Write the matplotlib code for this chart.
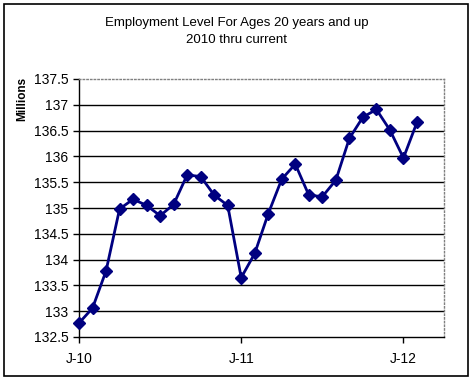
import numpy as np
import matplotlib.pyplot as plt
from matplotlib.patches import Rectangle

plt.rcParams['font.family'] = ['Liberation Sans', 'DejaVu Sans']

# monthly employment level, Jan 2010 .. Feb 2012 (millions)
months = np.arange(26)
level = [132.77, 133.06, 133.78, 134.98, 135.17, 135.05, 134.85, 135.07,
         135.64, 135.61, 135.25, 135.05, 133.65, 134.12, 134.89, 135.56,
         135.85, 135.25, 135.22, 135.54, 136.35, 136.76, 136.91, 136.51,
         135.97, 136.66]
tick_pos = [0, 12, 24]
tick_lab = ['J-10', 'J-11', 'J-12']

fig = plt.figure(figsize=(4.74, 3.81), dpi=100)
ax = fig.add_axes([79/474, 1-337/381, 365/474, 258/381])

yt = np.arange(132.5, 137.51, 0.5)
for v in yt[1:-1]:
    ax.axhline(v, color='black', lw=1, zorder=1)

ax.plot(months, level, color='#000080', lw=2, marker='D', ms=6,
        zorder=3, clip_on=False)

ax.set_xlim(0, 27)
ax.set_ylim(132.5, 137.5)
ax.set_yticks(yt)
ax.set_yticklabels(['%g' % v for v in yt])
ax.set_xticks(tick_pos)
ax.set_xticklabels(tick_lab)
ax.tick_params(axis='both', labelsize=10, direction='out', length=4, width=1, color='black')
ax.tick_params(axis='x', pad=7)

for s in ['top', 'right']:
    ax.spines[s].set_color('gray')
    ax.spines[s].set_linestyle(':')
    ax.spines[s].set_linewidth(1)
for s in ['left', 'bottom']:
    ax.spines[s].set_color('black')
    ax.spines[s].set_linewidth(1)

fig.text(22/474, 1-99/381, 'Millions', rotation=90, fontsize=8.5,
         fontweight='bold', ha='center', va='center')
fig.text(237/474, 1-23/381, 'Employment Level For Ages 20 years and up',
         fontsize=9.5, ha='center', va='center')
fig.text(237/474, 1-40/381, '2010 thru current',
         fontsize=9.5, ha='center', va='center')

fig.patches.append(Rectangle((4/474, 1-376/381), 464/474, 372/381,
                             transform=fig.transFigure, fill=False,
                             edgecolor='black', lw=1.2))

fig.savefig('out.png', dpi=100)
